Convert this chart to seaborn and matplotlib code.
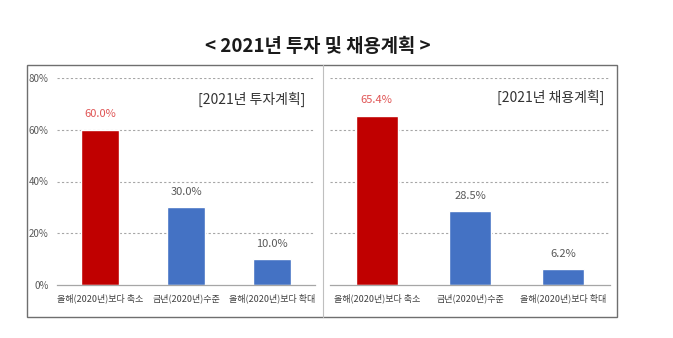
import matplotlib
matplotlib.use("Agg")
import matplotlib.pyplot as plt
import seaborn as sns
import pandas as pd
from matplotlib.patches import Rectangle
from matplotlib.lines import Line2D

sns.set_theme(style="white")
plt.rcParams['font.family'] = ['Noto Sans CJK KR', 'DejaVu Sans']

categories = ["올해(2020년)보다 축소", "금년(2020년)수준", "올해(2020년)보다 확대"]
invest_values = [60.0, 30.0, 10.0]
hire_values = [65.4, 28.5, 6.2]
invest_labels = ["60.0%", "30.0%", "10.0%"]
hire_labels = ["65.4%", "28.5%", "6.2%"]
bar_colors = ["#C00000", "#4472C4", "#4472C4"]
label_colors = ["#E05555", "#595959", "#595959"]
y_ticks = [0, 20, 40, 60, 80]
y_tick_labels = ["0%", "20%", "40%", "60%", "80%"]
title = "< 2021년 투자 및 채용계획 >"
panel_titles = ["[2021년 투자계획]", "[2021년 채용계획]"]

W, H = 673, 338
fig = plt.figure(figsize=(W / 100, H / 100), dpi=100)
fig.patch.set_facecolor("white")

def fx(px):
    return px / W

def fy(py):
    return 1 - py / H

# outer box and divider
fig.add_artist(Rectangle((fx(27), fy(317)), fx(617) - fx(27), fy(65) - fy(317),
                         transform=fig.transFigure, fill=False, edgecolor="#6F6F6F", lw=1.0))
fig.add_artist(Line2D([fx(323), fx(323)], [fy(317), fy(65)], transform=fig.transFigure,
                      color="#BFBFBF", lw=0.8))

fig.text(fx(318), fy(46), title, ha="center", va="center", fontsize=13.5, fontweight="bold",
         color="#1A1A1A")

ax_specs = [
    (57, 315, invest_values, invest_labels, panel_titles[0], True, 305, 99),
    (330, 610, hire_values, hire_labels, panel_titles[1], False, 604, 97),
]

for (x0, x1, vals, labs, ptitle, show_y, tx, ty) in ax_specs:
    ax = fig.add_axes([fx(x0), fy(285), fx(x1) - fx(x0), fy(78) - fy(285)])
    df = pd.DataFrame({"cat": categories, "val": vals, "col": bar_colors})
    sns.barplot(data=df, x="cat", y="val", hue="cat", palette=bar_colors, legend=False,
                width=0.45, ax=ax, saturation=1)
    ax.set_ylim(0, 80)
    ax.set_xlim(-0.5, 2.5)
    ax.set_yticks(y_ticks)
    for yv in y_ticks[1:]:
        ax.axhline(yv, color="#A6A6A6", lw=0.8, ls=(0, (2, 2)), zorder=0)
    for s in ["top", "right", "left"]:
        ax.spines[s].set_visible(False)
    ax.spines["bottom"].set_color("#A6A6A6")
    ax.spines["bottom"].set_linewidth(0.9)
    ax.set_xlabel("")
    ax.set_ylabel("")
    if show_y:
        ax.set_yticklabels(y_tick_labels, fontsize=7, color="#595959")
        ax.tick_params(axis="y", length=0, pad=6)
    else:
        ax.set_yticklabels([])
        ax.tick_params(axis="y", length=0)
    ax.set_xticks([0, 1, 2])
    ax.set_xticklabels(categories, fontsize=6.5, color="#404040")
    ax.tick_params(axis="x", length=0, pad=6)
    ax.set_xticks([-0.5, 0.5, 1.5, 2.5], minor=True)
    ax.tick_params(axis="x", which="minor", length=3, color="#A6A6A6", width=0.8, direction="out")
    for i, (v, lab) in enumerate(zip(vals, labs)):
        ax.text(i, v + 4, lab, ha="center", va="bottom", fontsize=8, color=label_colors[i])
    fig.text(fx(tx), fy(ty), ptitle, ha="right", va="center", fontsize=10, color="#333333")
    ax.set_facecolor("none")

fig.savefig("out.png", dpi=100, facecolor="white")
